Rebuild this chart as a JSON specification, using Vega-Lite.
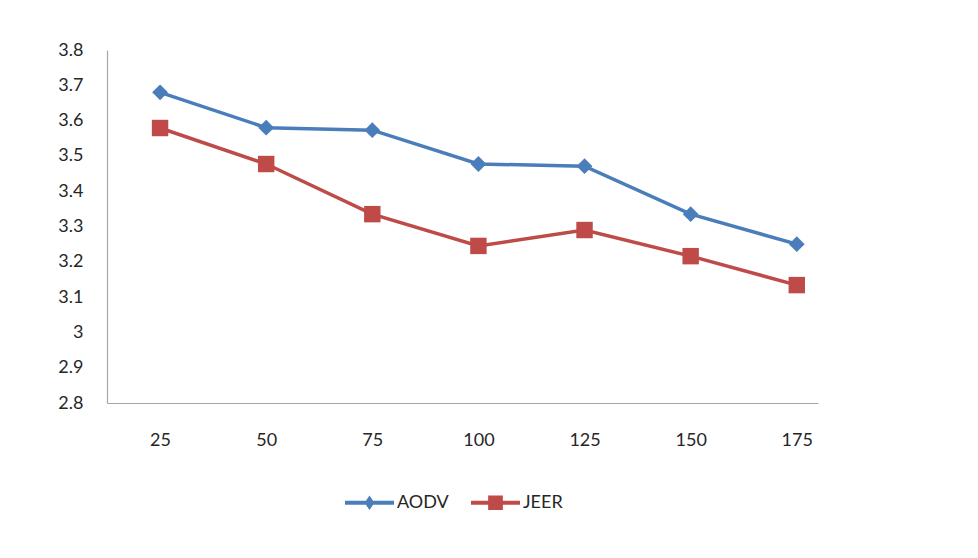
{
  "$schema": "https://vega.github.io/schema/vega-lite/v6.json",
  "width": 711,
  "height": 353,
  "autosize": {"type": "none"},
  "padding": {"left": 107, "top": 50, "right": 160, "bottom": 155},
  "background": "white",
  "config": {
    "view": {"stroke": null},
    "font": "Lato",
    "axis": {"grid": false, "ticks": false, "domainColor": "#a6a6a6", "domainWidth": 1.2, "labelFont": "Lato", "labelFontSize": 18, "labelColor": "#262626", "title": null}
  },
  "data": {
    "values": [
      {"x": 25, "series": "AODV", "v": 3.68},
      {"x": 50, "series": "AODV", "v": 3.58},
      {"x": 75, "series": "AODV", "v": 3.573},
      {"x": 100, "series": "AODV", "v": 3.477},
      {"x": 125, "series": "AODV", "v": 3.471},
      {"x": 150, "series": "AODV", "v": 3.335},
      {"x": 175, "series": "AODV", "v": 3.25},
      {"x": 25, "series": "JEER", "v": 3.579},
      {"x": 50, "series": "JEER", "v": 3.477},
      {"x": 75, "series": "JEER", "v": 3.335},
      {"x": 100, "series": "JEER", "v": 3.245},
      {"x": 125, "series": "JEER", "v": 3.29},
      {"x": 150, "series": "JEER", "v": 3.216},
      {"x": 175, "series": "JEER", "v": 3.134}
    ]
  },
  "encoding": {
    "x": {"field": "x", "type": "quantitative", "scale": {"domain": [12.5, 180], "nice": false, "zero": false}, "axis": {"values": [25, 50, 75, 100, 125, 150, 175], "format": "d", "labelPadding": 28}},
    "y": {"field": "v", "type": "quantitative", "scale": {"domain": [2.8, 3.8], "nice": false, "zero": false}, "axis": {"values": [2.8, 2.9, 3.0, 3.1, 3.2, 3.3, 3.4, 3.5, 3.6, 3.7, 3.8], "format": ".1~f", "labelPadding": 24}}
  },
  "layer": [
    {
      "mark": {"type": "point", "filled": true, "opacity": 0, "size": 10},
      "encoding": {
        "color": {"field": "series", "type": "nominal", "scale": {"domain": ["AODV", "JEER"], "range": ["#4A7EBB", "#BE4B48"]}, "legend": {"orient": "none", "direction": "horizontal", "legendX": 238, "legendY": 428, "title": null, "symbolSize": 2401, "symbolOpacity": 1, "symbolStrokeWidth": 0, "labelFont": "Lato", "labelFontSize": 18, "labelColor": "#262626", "labelOffset": 3, "columnPadding": 22}},
        "shape": {"field": "series", "type": "nominal", "scale": {"domain": ["AODV", "JEER"], "range": ["M-1,-0.08H1V0.08H-1Z M0,-0.3L0.2,0L0,0.3L-0.2,0Z", "M-1,-0.08H1V0.08H-1Z M-0.3,-0.3H0.3V0.3H-0.3Z"]}}
      }
    },
    {
      "mark": {"type": "line", "strokeWidth": 3.5},
      "encoding": {"color": {"field": "series", "type": "nominal"}}
    },
    {
      "transform": [{"filter": "datum.series === 'AODV'"}],
      "mark": {"type": "point", "shape": "diamond", "filled": true, "opacity": 1, "size": 250},
      "encoding": {"color": {"field": "series", "type": "nominal"}}
    },
    {
      "transform": [{"filter": "datum.series === 'JEER'"}],
      "mark": {"type": "point", "shape": "square", "filled": true, "opacity": 1, "size": 270},
      "encoding": {"color": {"field": "series", "type": "nominal"}}
    }
  ]
}
